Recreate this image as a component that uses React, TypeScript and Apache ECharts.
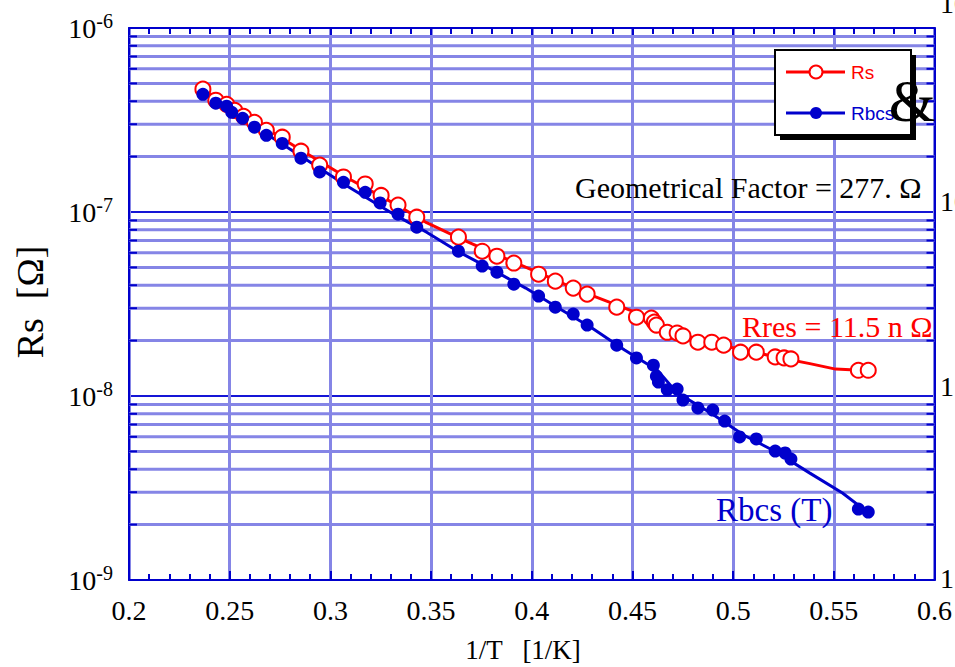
import React, { useEffect, useRef } from "react";
import * as echarts from "echarts";

// Measured Rs (open red circles)
const rsX = [0.2367, 0.2431, 0.2485, 0.2525, 0.2569, 0.2623, 0.2682, 0.2761, 0.2854, 0.2947, 0.3065, 0.3173, 0.3252, 0.3336, 0.3429, 0.3636, 0.3754, 0.3827, 0.3911, 0.4034, 0.4117, 0.4206, 0.4275, 0.4422, 0.452, 0.4594, 0.4609, 0.4619, 0.4673, 0.4722, 0.4751, 0.4825, 0.4894, 0.4953, 0.5037, 0.5115, 0.5209, 0.5253, 0.5287, 0.5622, 0.5671];
const rsVal = [4.65e-7, 4.05e-7, 3.85e-7, 3.57e-7, 3.31e-7, 3.07e-7, 2.78e-7, 2.55e-7, 2.14e-7, 1.8e-7, 1.55e-7, 1.42e-7, 1.23e-7, 1.09e-7, 9.37e-8, 7.3e-8, 6.12e-8, 5.75e-8, 5.28e-8, 4.59e-8, 4.21e-8, 3.86e-8, 3.58e-8, 3.04e-8, 2.68e-8, 2.65e-8, 2.52e-8, 2.43e-8, 2.22e-8, 2.2e-8, 2.12e-8, 1.96e-8, 1.96e-8, 1.89e-8, 1.73e-8, 1.73e-8, 1.63e-8, 1.61e-8, 1.59e-8, 1.38e-8, 1.38e-8];

// Rbcs (filled blue dots)
const bcsX = [0.2367, 0.2431, 0.2485, 0.251, 0.2564, 0.2623, 0.2682, 0.2761, 0.2854, 0.2947, 0.3065, 0.3173, 0.3247, 0.3336, 0.3429, 0.3636, 0.3754, 0.3827, 0.3911, 0.4034, 0.4117, 0.4206, 0.4275, 0.4422, 0.452, 0.4604, 0.4619, 0.4629, 0.4673, 0.4722, 0.4751, 0.4825, 0.4899, 0.4958, 0.5032, 0.5115, 0.5209, 0.5258, 0.5287, 0.5622, 0.5671];
const bcsVal = [4.36e-7, 3.9e-7, 3.76e-7, 3.48e-7, 3.23e-7, 2.89e-7, 2.61e-7, 2.36e-7, 1.96e-7, 1.65e-7, 1.45e-7, 1.28e-7, 1.12e-7, 9.73e-8, 8.27e-8, 6.12e-8, 5.08e-8, 4.71e-8, 4.05e-8, 3.49e-8, 3.04e-8, 2.79e-8, 2.43e-8, 1.89e-8, 1.61e-8, 1.47e-8, 1.28e-8, 1.19e-8, 1.08e-8, 1.09e-8, 9.51e-9, 8.61e-9, 8.39e-9, 7.31e-9, 5.99e-9, 5.84e-9, 5.02e-9, 4.9e-9, 4.54e-9, 2.43e-9, 2.34e-9];

// Fit curves
const rsFitX = [0.2348, 0.2593, 0.2839, 0.3085, 0.3331, 0.3478, 0.364, 0.3808, 0.4004, 0.423, 0.4398, 0.4525, 0.4722, 0.4889, 0.5052, 0.5214, 0.5381, 0.5509, 0.5631];
const rsFit = [4.76e-7, 3.27e-7, 2.22e-7, 1.53e-7, 1.09e-7, 8.75e-8, 7.21e-8, 5.97e-8, 4.83e-8, 3.76e-8, 3.2e-8, 2.82e-8, 2.2e-8, 1.94e-8, 1.78e-8, 1.63e-8, 1.5e-8, 1.4e-8, 1.38e-8];
const bcsFitX = [0.2348, 0.2593, 0.2839, 0.3085, 0.3331, 0.3478, 0.364, 0.3808, 0.397, 0.4132, 0.4299, 0.4461, 0.4624, 0.4722, 0.4889, 0.5052, 0.5214, 0.5381, 0.5543, 0.5641];
const bcsFit = [4.59e-7, 3.07e-7, 2.06e-7, 1.38e-7, 9.49e-8, 7.77e-8, 6.05e-8, 4.83e-8, 3.86e-8, 3.01e-8, 2.34e-8, 1.78e-8, 1.38e-8, 1.04e-8, 8.09e-9, 6.14e-9, 4.96e-9, 3.81e-9, 2.97e-9, 2.46e-9];

// Axis setup
const xMin = 0.2;
const xMax = 0.6;
const xStep = 0.05;
const yMin = 1e-9;
const yMax = 1e-6;
const decades = [1e-9, 1e-8, 1e-7];
const minorMult = [2, 3, 4, 5, 6, 7, 8, 9];
const rightLabels = ["10", "10", "1", "1"];

const BLUE = "#0000cc";
const GRID = "#8585e6";
const SERIF = "Liberation Serif";

export default function App() {
  const ref = useRef<HTMLDivElement>(null);
  useEffect(() => {
    if (!ref.current) return;
    const chart = echarts.init(ref.current, undefined, { renderer: "svg" });
    const minorY: number[][] = [];
    decades.forEach((d) => minorMult.forEach((m) => minorY.push([0.4, d * m])));

    const option: any = {
      animation: false,
      backgroundColor: "#fff",
      grid: { left: 129, top: 28, right: 13, bottom: 87, containLabel: false },
      xAxis: [
        {
          type: "value",
          min: xMin,
          max: xMax,
          interval: xStep,
          position: "bottom",
          axisLine: { lineStyle: { color: BLUE, width: 2 } },
          axisTick: { inside: true, length: 9, lineStyle: { color: BLUE, width: 2 } },
          minorTick: { show: true, splitNumber: 5, length: 6, lineStyle: { color: BLUE, width: 2 } },
          axisLabel: { color: "#000", fontFamily: SERIF, fontSize: 28, margin: 16 },
          splitLine: { show: true, lineStyle: { color: GRID, width: 3, type: "solid" } },
        },
        {
          type: "value",
          min: xMin,
          max: xMax,
          interval: xStep,
          position: "top",
          axisLine: { lineStyle: { color: BLUE, width: 2 } },
          axisTick: { inside: true, length: 9, lineStyle: { color: BLUE, width: 2 } },
          minorTick: { show: true, splitNumber: 5, length: 6, lineStyle: { color: BLUE, width: 2 } },
          axisLabel: { show: false },
          splitLine: { show: false },
        },
      ],
      yAxis: [
        {
          type: "log",
          logBase: 10,
          min: yMin,
          max: yMax,
          position: "left",
          axisLine: { show: true, lineStyle: { color: BLUE, width: 2 } },
          axisTick: { show: false },
          splitLine: { show: true, lineStyle: { color: "#1515d6", width: 2 } },
          axisLabel: {
            margin: 16,
            formatter: (v: number) => `{b|10}{s|${Math.round(Math.log10(v))}}`,
            rich: {
              b: { fontFamily: SERIF, fontSize: 28, color: "#000" },
              s: { fontFamily: SERIF, fontSize: 20, color: "#000", verticalAlign: "top", padding: [0, 0, 14, 0] },
            },
          },
        },
        {
          type: "log",
          logBase: 10,
          min: yMin,
          max: yMax,
          position: "right",
          axisLine: { show: true, lineStyle: { color: BLUE, width: 2 } },
          axisTick: { show: false },
          splitLine: { show: false },
          axisLabel: { show: false },
        },
      ],
      series: [
        {
          type: "custom",
          silent: true,
          z: 1,
          data: minorY,
          renderItem: (params: any, api: any) => {
            const cs = params.coordSys;
            const p = api.coord([api.value(0), api.value(1)]);
            const y = p[1];
            return {
              type: "group",
              children: [
                { type: "line", shape: { x1: cs.x, y1: y, x2: cs.x + cs.width, y2: y }, style: { stroke: GRID, lineWidth: 3 } },
                { type: "line", shape: { x1: cs.x, y1: y, x2: cs.x + 8, y2: y }, style: { stroke: BLUE, lineWidth: 2 } },
                { type: "line", shape: { x1: cs.x + cs.width - 8, y1: y, x2: cs.x + cs.width, y2: y }, style: { stroke: BLUE, lineWidth: 2 } },
              ],
            };
          },
        },
        {
          type: "line",
          name: "Rs fit",
          z: 3,
          symbol: "none",
          data: rsFitX.map((x, i) => [x, rsFit[i]]),
          lineStyle: { color: "#ff0000", width: 3 },
        },
        {
          type: "line",
          name: "Rbcs fit",
          z: 3,
          symbol: "none",
          data: bcsFitX.map((x, i) => [x, bcsFit[i]]),
          lineStyle: { color: BLUE, width: 3 },
        },
        {
          type: "scatter",
          name: "Rs",
          z: 4,
          symbol: "circle",
          symbolSize: 15,
          data: rsX.map((x, i) => [x, rsVal[i]]),
          itemStyle: { color: "#ffffff", borderColor: "#ff0000", borderWidth: 2, opacity: 1 },
        },
        {
          type: "scatter",
          name: "Rbcs",
          z: 5,
          symbol: "circle",
          symbolSize: 13,
          data: bcsX.map((x, i) => [x, bcsVal[i]]),
          itemStyle: { color: BLUE, opacity: 1 },
        },
      ],
      graphic: [
        {
          type: "text", x: 30, y: 302, rotation: Math.PI / 2, z: 50,
          style: { text: "Rs  [Ω]", fill: "#000", fontFamily: SERIF, fontSize: 38, align: "center", verticalAlign: "middle", textAlign: "center", textVerticalAlign: "middle" },
        },
        {
          type: "text", x: 523, y: 650, z: 50,
          style: { text: "1/T   [1/K]", fill: "#000", fontFamily: SERIF, fontSize: 27, align: "center", verticalAlign: "middle", textAlign: "center", textVerticalAlign: "middle" },
        },
        {
          type: "text", x: 575, y: 187, z: 50,
          style: { text: "Geometrical Factor = 277. Ω", fill: "#000", fontFamily: SERIF, fontSize: 30, align: "left", verticalAlign: "middle", textAlign: "left", textVerticalAlign: "middle" },
        },
        {
          type: "text", x: 742, y: 326, z: 50,
          style: { text: "Rres = 11.5 n Ω", fill: "#ff0000", fontFamily: SERIF, fontSize: 30, align: "left", verticalAlign: "middle", textAlign: "left", textVerticalAlign: "middle" },
        },
        {
          type: "text", x: 716, y: 510, z: 50,
          style: { text: "Rbcs (T)", fill: BLUE, fontFamily: SERIF, fontSize: 33, align: "left", verticalAlign: "middle", textAlign: "left", textVerticalAlign: "middle" },
        },
        ...[3, 201, 386, 578].map((y, i) => ({
          type: "text", x: 940, y, z: 50,
          style: { text: rightLabels[i], fill: "#000", fontFamily: SERIF, fontSize: 28, align: "left", verticalAlign: "middle", textAlign: "left", textVerticalAlign: "middle" },
        })),
        { type: "rect", z: 100, shape: { x: 780, y: 55, width: 136, height: 85 }, style: { fill: "#000" } },
        { type: "rect", z: 101, shape: { x: 775, y: 50, width: 136, height: 85 }, style: { fill: "#fff", stroke: "#000", lineWidth: 2 } },
        { type: "line", z: 102, shape: { x1: 786, y1: 72, x2: 845, y2: 72 }, style: { stroke: "#ff0000", lineWidth: 3 } },
        { type: "circle", z: 103, shape: { cx: 816, cy: 72, r: 6.5 }, style: { fill: "#fff", stroke: "#ff0000", lineWidth: 2 } },
        {
          type: "text", z: 103, x: 851, y: 72,
          style: { text: "Rs", fill: "#ff0000", fontFamily: "Liberation Sans", fontSize: 19, align: "left", verticalAlign: "middle", textAlign: "left", textVerticalAlign: "middle" },
        },
        { type: "line", z: 102, shape: { x1: 786, y1: 113, x2: 845, y2: 113 }, style: { stroke: BLUE, lineWidth: 3 } },
        { type: "circle", z: 103, shape: { cx: 816, cy: 113, r: 6 }, style: { fill: BLUE } },
        {
          type: "text", z: 103, x: 851, y: 113,
          style: { text: "Rbcs", fill: BLUE, fontFamily: "Liberation Sans", fontSize: 19, align: "left", verticalAlign: "middle", textAlign: "left", textVerticalAlign: "middle" },
        },
        {
          type: "text", z: 110, x: 912, y: 101,
          style: { text: "&", fill: "#000", fontFamily: SERIF, fontSize: 60, align: "center", verticalAlign: "middle", textAlign: "center", textVerticalAlign: "middle" },
        },
      ],
    };
    chart.setOption(option);
    return () => chart.dispose();
  }, []);
  return <div ref={ref} style={{ position: "fixed", left: 0, top: 0, width: 955, height: 667 }} />;
}
